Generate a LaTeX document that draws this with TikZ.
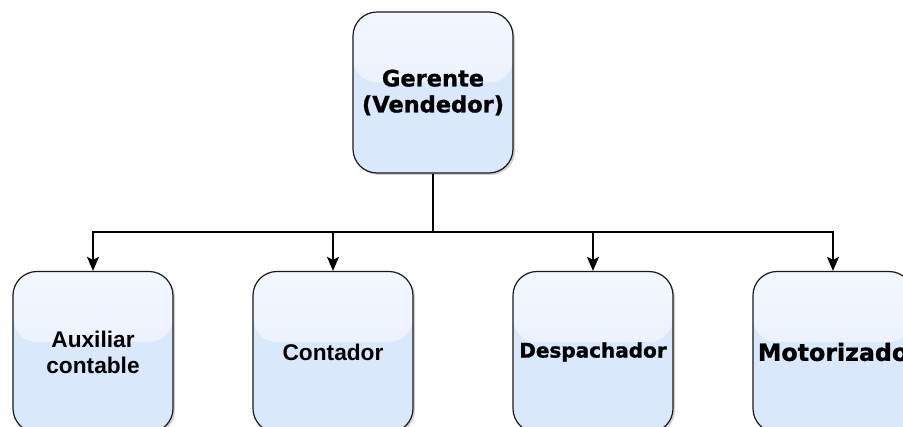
\documentclass[tikz,border=0pt]{standalone}
\usepackage{fontspec}
\setmainfont{Liberation Sans}
\newfontfamily\dejavu{DejaVu Sans}[BoldFeatures={FakeBold=1.2}]
\usetikzlibrary{arrows.meta,shadows}
\definecolor{boxblue}{HTML}{DAE8FC}
\definecolor{glasstop}{HTML}{F3F7FE}
\definecolor{glassbot}{HTML}{E4EDFB}
\definecolor{edgecol}{HTML}{1A1A1A}
\tikzset{
  rolebox/.style={draw=edgecol, line width=1.2pt, fill=boxblue, rounded corners=24pt,
    minimum width=160pt, minimum height=161pt, inner sep=0pt, align=center,
    text=black,
    drop shadow={shadow xshift=2pt, shadow yshift=-2pt, opacity=0.35, fill=gray},
    path picture={\shade[top color=glasstop, bottom color=glassbot]
      (path picture bounding box.north west) rectangle ([yshift=10pt]path picture bounding box.east);}},
  heavytext/.style={font=\dejavu\bfseries\fontsize{22.5pt}{26pt}\selectfont},
  mediumtext/.style={font=\bfseries\fontsize{22.7pt}{26pt}\selectfont},
  conn/.style={draw=black, line width=1.5pt, -{Stealth[length=14pt,width=12pt,inset=3pt]}},
  plainline/.style={draw=black, line width=1.5pt}
}
\begin{document}
\begin{tikzpicture}[x=1pt,y=-1pt]
\useasboundingbox (0,0) rectangle (903,427);
\clip (0,0) rectangle (903,427);
\fill[white] (0,0) rectangle (903,427);
\node[rolebox, heavytext] (top) at (433,92.5) {Gerente\\(Vendedor)};
\node[rolebox, mediumtext] (aux) at (93,352) {Auxiliar\\contable};
\node[rolebox, mediumtext] (cont) at (333,352) {Contador};
\node[rolebox, font=\dejavu\bfseries\fontsize{20pt}{24pt}\selectfont] (desp) at (593,352) {Despachador};
\node[rolebox, font=\dejavu\bfseries\fontsize{23.7pt}{27pt}\selectfont] (moto) at (833,352) {Motorizado};
\coordinate (junc) at (433,232);
\draw[plainline] (top.south) -- (junc);
\draw[conn] (junc) -| (aux.north);
\draw[conn] (junc) -| (cont.north);
\draw[conn] (junc) -| (desp.north);
\draw[conn] (junc) -| (moto.north);
\end{tikzpicture}
\end{document}
